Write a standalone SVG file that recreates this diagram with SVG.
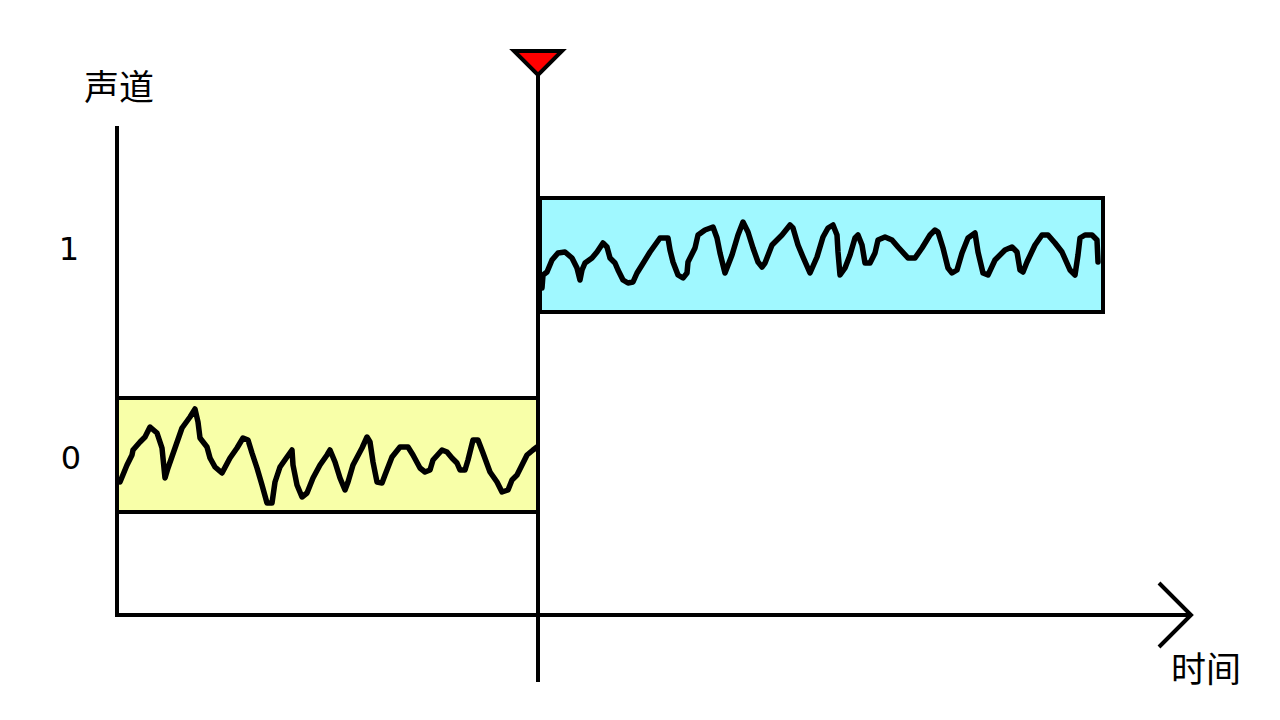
<svg xmlns="http://www.w3.org/2000/svg" width="1280" height="720" viewBox="0 0 1280 720">
<style>
.ax{stroke:#000;stroke-width:4;fill:none}
.wave{stroke:#000;stroke-width:5.5;fill:none;stroke-linejoin:round;stroke-linecap:round}
.lbl{font-family:"DejaVu Sans","Noto Sans CJK SC",sans-serif;font-size:35px;fill:#000}
.num{font-family:"DejaVu Sans",sans-serif;font-size:32px;fill:#000;text-anchor:middle}
</style>
<rect width="1280" height="720" fill="#fff"/>
<g id="channel0">
<rect x="117" y="398" width="421" height="114" fill="#f8ffa8" stroke="#000" stroke-width="4"/>
<polyline class="wave" points="120,482 127,465 132,455 133,450 140,442 145,437 150,427 157,433 162,448 165,478 168,468 175,448 182,428 190,417 195,409 198,422 200,438 207,447 210,458 215,467 222,473 230,458 237,448 243,438 248,440 252,453 257,468 262,485 267,503 272,503 275,482 280,467 287,457 292,450 293,465 297,485 302,497 307,493 313,478 320,465 327,455 330,450 335,462 340,478 345,490 348,482 353,465 362,448 367,437 370,442 373,462 377,482 382,483 385,475 392,457 400,447 408,447 413,455 420,468 425,472 430,470 433,460 442,450 447,452 452,458 457,463 460,470 465,470 468,460 473,440 478,440 483,453 490,472 497,482 502,492 508,490 512,480 517,475 522,465 527,455 533,450 537,447"/>
</g>
<g id="channel1">
<rect x="540" y="198" width="563" height="114" fill="#a0f8ff" stroke="#000" stroke-width="4"/>
<polyline class="wave" points="542,288 543,275 547,272 552,260 558,253 565,252 572,258 577,268 580,280 582,270 585,263 592,258 597,252 603,243 607,247 610,258 615,263 618,270 623,280 628,283 633,282 637,273 642,265 650,252 660,238 668,238 670,250 673,262 678,275 683,278 687,273 688,262 695,248 698,235 705,230 713,227 717,238 720,253 725,273 732,255 738,235 743,222 748,232 753,248 758,262 762,267 765,263 772,245 782,235 790,225 793,228 798,245 803,257 810,273 817,257 823,237 828,228 833,225 837,235 838,252 840,275 845,268 850,255 855,238 858,235 862,245 865,263 870,263 875,253 878,240 885,237 892,240 898,247 908,258 915,258 922,248 930,235 935,230 938,232 943,248 948,268 952,273 957,270 962,253 968,238 975,233 978,252 983,273 988,275 995,260 1005,250 1012,247 1017,252 1020,270 1023,272 1027,262 1035,245 1042,235 1048,235 1055,243 1062,252 1070,270 1075,275 1078,255 1080,238 1085,235 1092,235 1097,240 1098,262"/>
</g>
<g id="axes">
<line class="ax" x1="117" y1="126" x2="117" y2="617"/>
<line class="ax" x1="115" y1="615" x2="1191" y2="615"/>
<polyline class="ax" points="1159,583 1191,615 1159,647"/>
</g>
<g id="playhead">
<line class="ax" x1="538" y1="70" x2="538" y2="682"/>
<polygon points="514,51 562,51 538,75" fill="#f00" stroke="#000" stroke-width="4" stroke-linejoin="miter"/>
</g>
<g id="labels">
<text class="lbl" x="84" y="100">声道</text>
<text class="lbl" x="1171" y="682">时间</text>
<text class="num" x="69" y="260">1</text>
<text class="num" x="71" y="469">0</text>
</g>
</svg>
